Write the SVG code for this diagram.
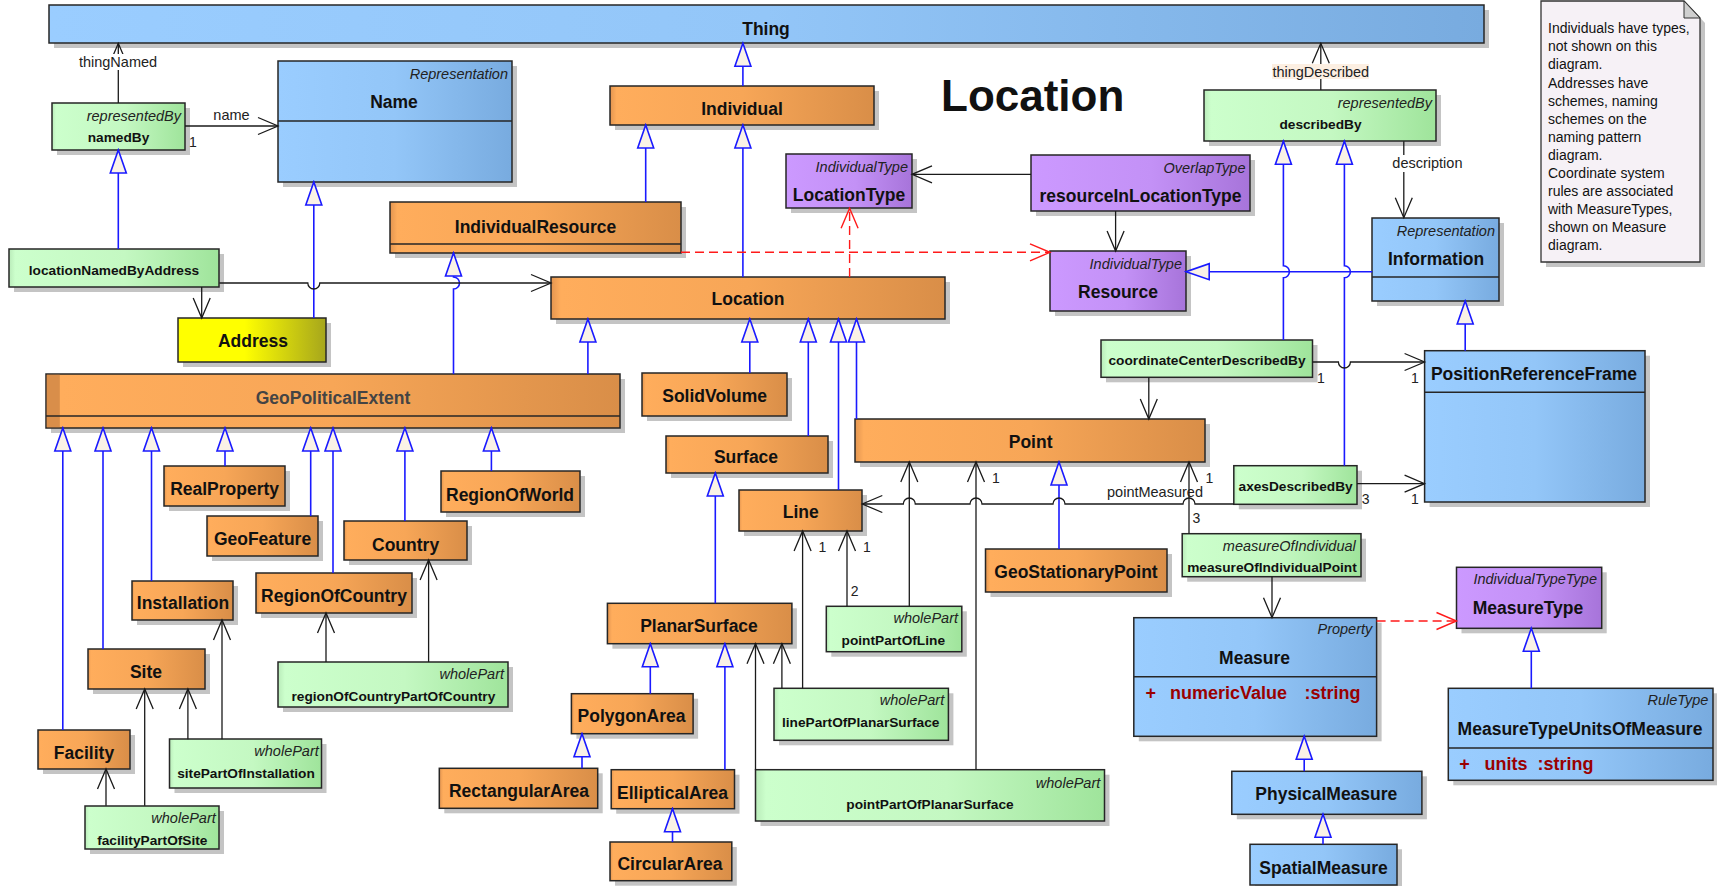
<svg xmlns="http://www.w3.org/2000/svg" width="1717" height="886" viewBox="0 0 1717 886">
<style>
text{font-family:"Liberation Sans",Arial,sans-serif;fill:#111}
.sh{fill:#c4c4c4}
.box{stroke:#262626;stroke-width:1.5}
.dv{stroke:#262626;stroke-width:1.5}
.bl{fill:url(#gB)}.or{fill:url(#gO)}.gr{fill:url(#gG)}.pu{fill:url(#gP)}.ye{fill:url(#gY)}
.cn{font-weight:bold;font-size:17.5px;text-anchor:middle;dominant-baseline:central}
.an{font-weight:bold;font-size:13.7px;text-anchor:middle;dominant-baseline:central}
.st{font-style:italic;font-size:14.5px;text-anchor:end;dominant-baseline:central;fill:#222}
.lb{font-size:14.5px;text-anchor:middle;dominant-baseline:central;fill:#222}
.mu{font-size:14px;text-anchor:middle;dominant-baseline:central;fill:#222}
.at{font-weight:bold;font-size:18px;fill:#9a0000;dominant-baseline:central}
.nt{font-size:14px;fill:#111;dominant-baseline:central}
.gen{stroke:#1a1aff;stroke-width:1.6;fill:none;marker-end:url(#tri)}
.as{stroke:#1a1a1a;stroke-width:1.3;fill:none;marker-end:url(#oa)}
.dep{stroke:#ff1a1a;stroke-width:1.4;fill:none;stroke-dasharray:9 5;marker-end:url(#ra)}
</style>
<defs>
<linearGradient id="gB" x1="0" y1="0" x2="1" y2="0"><stop offset="0" stop-color="#9acdff"/><stop offset="0.5" stop-color="#93c6f8"/><stop offset="1" stop-color="#78abdf"/></linearGradient>
<linearGradient id="gO" x1="0" y1="0" x2="1" y2="0"><stop offset="0" stop-color="#e39550"/><stop offset="0.025" stop-color="#ffad5c"/><stop offset="0.5" stop-color="#f7a657"/><stop offset="1" stop-color="#d98e48"/></linearGradient>
<linearGradient id="gG" x1="0" y1="0" x2="1" y2="0"><stop offset="0" stop-color="#b9ebb9"/><stop offset="0.03" stop-color="#ccffcc"/><stop offset="0.55" stop-color="#c4f8c2"/><stop offset="1" stop-color="#9fe49b"/></linearGradient>
<linearGradient id="gP" x1="0" y1="0" x2="1" y2="0"><stop offset="0" stop-color="#cc99ff"/><stop offset="0.55" stop-color="#c391f6"/><stop offset="1" stop-color="#a774da"/></linearGradient>
<linearGradient id="gY" x1="0" y1="0" x2="1" y2="0"><stop offset="0" stop-color="#ffff00"/><stop offset="0.45" stop-color="#ffff00"/><stop offset="1" stop-color="#a6a61c"/></linearGradient>
<marker id="tri" viewBox="-25 -10 27 20" refX="0" refY="0" markerWidth="27" markerHeight="20" markerUnits="userSpaceOnUse" orient="auto"><path d="M0,0 L-23,-8 L-23,8 Z" fill="#faf2e6" stroke="#1a1aff" stroke-width="1.6"/></marker>
<marker id="oa" viewBox="-22 -10 24 20" refX="0" refY="0" markerWidth="24" markerHeight="20" markerUnits="userSpaceOnUse" orient="auto"><path d="M-20,-8.5 L0,0 L-20,8.5" fill="none" stroke="#1a1a1a" stroke-width="1.3"/></marker>
<marker id="ra" viewBox="-22 -10 24 20" refX="0" refY="0" markerWidth="24" markerHeight="20" markerUnits="userSpaceOnUse" orient="auto"><path d="M-20,-8.5 L0,0 L-20,8.5" fill="none" stroke="#ff1a1a" stroke-width="1.4"/></marker>
</defs>
<rect x="0" y="0" width="1717" height="886" fill="#ffffff"/>

<g id="title"><text x="941" y="111" font-size="44" font-weight="bold">Location</text></g>

<g id="n-thing"><rect class="sh" x="54" y="10" width="1435" height="38"/><rect class="box bl" x="49" y="5" width="1435" height="38"/><text class="cn" x="766" y="29">Thing</text></g>
<g id="n-name"><rect class="sh" x="283" y="66" width="234" height="121"/><rect class="box bl" x="278" y="61" width="234" height="121"/><line class="dv" x1="278" y1="121" x2="512" y2="121"/><text class="st" x="508" y="73.5">Representation</text><text class="cn" x="394" y="102">Name</text></g>
<g id="n-namedBy"><rect class="sh" x="57" y="108" width="133" height="47"/><rect class="box gr" x="52" y="103" width="133" height="47"/><text class="st" x="181" y="116">representedBy</text><text class="an" x="118.5" y="137.5">namedBy</text></g>
<g id="n-locationNamedByAddress"><rect class="sh" x="14" y="254" width="210" height="38"/><rect class="box gr" x="9" y="249" width="210" height="38"/><text class="an" x="114" y="270">locationNamedByAddress</text></g>
<g id="n-address"><rect class="sh" x="183" y="323" width="148" height="44"/><rect class="box ye" x="178" y="318" width="148" height="44"/><text class="cn" x="253" y="341">Address</text></g>
<g id="n-individual"><rect class="sh" x="615" y="91" width="264" height="39"/><rect class="box or" x="610" y="86" width="264" height="39"/><text class="cn" x="742" y="109">Individual</text></g>
<g id="n-individualResource"><rect class="sh" x="395" y="207" width="291" height="51"/><rect class="box or" x="390" y="202" width="291" height="51"/><line class="dv" x1="390" y1="244" x2="681" y2="244"/><text class="cn" x="535.5" y="226.5">IndividualResource</text></g>
<g id="n-location"><rect class="sh" x="556" y="282" width="394" height="42"/><rect class="box or" x="551" y="277" width="394" height="42"/><text class="cn" x="748" y="299">Location</text></g>
<g id="n-locationType"><rect class="sh" x="791" y="159" width="126" height="54"/><rect class="box pu" x="786" y="154" width="126" height="54"/><text class="st" x="908" y="166.5">IndividualType</text><text class="cn" x="849" y="195">LocationType</text></g>
<g id="n-resourceInLocationType"><rect class="sh" x="1036" y="160" width="219" height="56"/><rect class="box pu" x="1031" y="155" width="219" height="56"/><text class="st" x="1245.5" y="167.5">OverlapType</text><text class="cn" x="1140.5" y="196">resourceInLocationType</text></g>
<g id="n-resource"><rect class="sh" x="1055" y="256" width="136" height="60"/><rect class="box pu" x="1050" y="251" width="136" height="60"/><text class="st" x="1182" y="263.5">IndividualType</text><text class="cn" x="1118" y="292">Resource</text></g>
<g id="n-describedBy"><rect class="sh" x="1209" y="95" width="232" height="51"/><rect class="box gr" x="1204" y="90" width="232" height="51"/><text class="st" x="1432" y="103">representedBy</text><text class="an" x="1320.5" y="124.5">describedBy</text></g>
<g id="n-information"><rect class="sh" x="1377" y="223" width="127" height="83"/><rect class="box bl" x="1372" y="218" width="127" height="83"/><line class="dv" x1="1372" y1="277" x2="1499" y2="277"/><text class="st" x="1495" y="230.5">Representation</text><text class="cn" x="1436" y="259">Information</text></g>
<g id="n-note"><path d="M1546,6 H1689 L1705,23 V267 H1546 Z" fill="#c4c4c4"/><path d="M1541,1 H1684 L1700,18 V262 H1541 Z" fill="#f6f1f6" stroke="#333" stroke-width="1.3"/><path d="M1684,1 L1700,18 H1684 Z" fill="#cfcfcf" stroke="#333" stroke-width="1"/>
<text class="nt" x="1548" y="28.3">Individuals have types,</text><text class="nt" x="1548" y="46.3">not shown on this</text><text class="nt" x="1548" y="64.3">diagram.</text><text class="nt" x="1548" y="82.5">Addresses have</text><text class="nt" x="1548" y="100.5">schemes, naming</text><text class="nt" x="1548" y="118.5">schemes on the</text><text class="nt" x="1548" y="136.8">naming pattern</text><text class="nt" x="1548" y="155">diagram.</text><text class="nt" x="1548" y="173">Coordinate system</text><text class="nt" x="1548" y="191.2">rules are associated</text><text class="nt" x="1548" y="209.3">with MeasureTypes,</text><text class="nt" x="1548" y="227.3">shown on Measure</text><text class="nt" x="1548" y="245.3">diagram.</text></g>
<g id="n-geoPoliticalExtent"><rect class="sh" x="51" y="379" width="574" height="54"/><rect class="box or" x="46" y="374" width="574" height="54"/><rect x="46.8" y="374.8" width="13" height="52.4" fill="#d98e4a"/><line class="dv" x1="46" y1="416" x2="620" y2="416"/><text class="cn" x="333" y="398" style="fill:#444">GeoPoliticalExtent</text></g>
<g id="n-realProperty"><rect class="sh" x="169" y="471" width="121" height="40"/><rect class="box or" x="164" y="466" width="121" height="40"/><text class="cn" x="224.6" y="489">RealProperty</text></g>
<g id="n-geoFeature"><rect class="sh" x="212" y="521" width="111" height="40"/><rect class="box or" x="207" y="516" width="111" height="40"/><text class="cn" x="262.5" y="538.7">GeoFeature</text></g>
<g id="n-country"><rect class="sh" x="349" y="526" width="123" height="39"/><rect class="box or" x="344" y="521" width="123" height="39"/><text class="cn" x="405.6" y="545">Country</text></g>
<g id="n-regionOfWorld"><rect class="sh" x="446" y="476" width="139" height="41"/><rect class="box or" x="441" y="471" width="139" height="41"/><text class="cn" x="510" y="495">RegionOfWorld</text></g>
<g id="n-regionOfCountry"><rect class="sh" x="261" y="578" width="156" height="40"/><rect class="box or" x="256" y="573" width="156" height="40"/><text class="cn" x="334" y="596">RegionOfCountry</text></g>
<g id="n-installation"><rect class="sh" x="137" y="586" width="101" height="39"/><rect class="box or" x="132" y="581" width="101" height="39"/><text class="cn" x="183" y="603.3">Installation</text></g>
<g id="n-site"><rect class="sh" x="93" y="654" width="117" height="40"/><rect class="box or" x="88" y="649" width="117" height="40"/><text class="cn" x="146" y="671.7">Site</text></g>
<g id="n-facility"><rect class="sh" x="43" y="735" width="92" height="39"/><rect class="box or" x="38" y="730" width="92" height="39"/><text class="cn" x="84" y="752.7">Facility</text></g>
<g id="n-sitePartOfInstallation"><rect class="sh" x="174.5" y="744" width="152" height="49"/><rect class="box gr" x="169.5" y="739" width="152" height="49"/><text class="st" x="318.8" y="751.3">wholePart</text><text class="an" x="246" y="773.3">sitePartOfInstallation</text></g>
<g id="n-facilityPartOfSite"><rect class="sh" x="90" y="811" width="134" height="43"/><rect class="box gr" x="85" y="806" width="134" height="43"/><text class="st" x="215.8" y="818.3">wholePart</text><text class="an" x="152.3" y="840.3">facilityPartOfSite</text></g>
<g id="n-regionOfCountryPartOfCountry"><rect class="sh" x="283" y="667" width="230" height="45"/><rect class="box gr" x="278" y="662" width="230" height="45"/><text class="st" x="504" y="674.3">wholePart</text><text class="an" x="393.4" y="696.3">regionOfCountryPartOfCountry</text></g>
<g id="n-solidVolume"><rect class="sh" x="647" y="378" width="145" height="43"/><rect class="box or" x="642" y="373" width="145" height="43"/><text class="cn" x="714.6" y="395.7">SolidVolume</text></g>
<g id="n-surface"><rect class="sh" x="671" y="441" width="162" height="37"/><rect class="box or" x="666" y="436" width="162" height="37"/><text class="cn" x="746" y="457.3">Surface</text></g>
<g id="n-line"><rect class="sh" x="744" y="495" width="123" height="41"/><rect class="box or" x="739" y="490" width="123" height="41"/><text class="cn" x="800.7" y="512.3">Line</text></g>
<g id="n-point"><rect class="sh" x="860" y="424" width="350" height="43"/><rect class="box or" x="855" y="419" width="350" height="43"/><text class="cn" x="1030.6" y="441.7">Point</text></g>
<g id="n-geoStationaryPoint"><rect class="sh" x="990.5" y="554" width="181.5" height="43"/><rect class="box or" x="985.5" y="549" width="181.5" height="43"/><text class="cn" x="1076" y="572.3">GeoStationaryPoint</text></g>
<g id="n-planarSurface"><rect class="sh" x="612.4" y="608.3" width="184.5" height="40.4"/><rect class="box or" x="607.4" y="603.3" width="184.5" height="40.4"/><text class="cn" x="699" y="626">PlanarSurface</text></g>
<g id="n-polygonArea"><rect class="sh" x="576.4" y="698.7" width="121.7" height="40"/><rect class="box or" x="571.4" y="693.7" width="121.7" height="40"/><text class="cn" x="631.5" y="716">PolygonArea</text></g>
<g id="n-rectangularArea"><rect class="sh" x="444.3" y="773.3" width="158.4" height="40"/><rect class="box or" x="439.3" y="768.3" width="158.4" height="40"/><text class="cn" x="519" y="791">RectangularArea</text></g>
<g id="n-ellipticalArea"><rect class="sh" x="616.2" y="774.7" width="123.3" height="39"/><rect class="box or" x="611.2" y="769.7" width="123.3" height="39"/><text class="cn" x="672.5" y="792.7">EllipticalArea</text></g>
<g id="n-circularArea"><rect class="sh" x="615" y="847" width="121.8" height="38.7"/><rect class="box or" x="610" y="842" width="121.8" height="38.7"/><text class="cn" x="670" y="864.3">CircularArea</text></g>
<g id="n-linePartOfPlanarSurface"><rect class="sh" x="779" y="693.3" width="174.4" height="52"/><rect class="box gr" x="774" y="688.3" width="174.4" height="52"/><text class="st" x="944.2" y="700.3">wholePart</text><text class="an" x="860.7" y="722">linePartOfPlanarSurface</text></g>
<g id="n-pointPartOfLine"><rect class="sh" x="831.3" y="611.3" width="135.5" height="45.4"/><rect class="box gr" x="826.3" y="606.3" width="135.5" height="45.4"/><text class="st" x="958" y="618.3">wholePart</text><text class="an" x="893.3" y="640">pointPartOfLine</text></g>
<g id="n-pointPartOfPlanarSurface"><rect class="sh" x="760.5" y="774.7" width="349" height="51.3"/><rect class="box gr" x="755.5" y="769.7" width="349" height="51.3"/><text class="st" x="1100.3" y="782.7">wholePart</text><text class="an" x="930" y="804.3">pointPartOfPlanarSurface</text></g>
<g id="n-coordinateCenterDescribedBy"><rect class="sh" x="1106" y="345" width="211.5" height="37.3"/><rect class="box gr" x="1101" y="340" width="211.5" height="37.3"/><text class="an" x="1207" y="360.3">coordinateCenterDescribedBy</text></g>
<g id="n-positionReferenceFrame"><rect class="sh" x="1429.6" y="355.7" width="220.4" height="151.3"/><rect class="box bl" x="1424.6" y="350.7" width="220.4" height="151.3"/><line class="dv" x1="1424.6" y1="392.3" x2="1645" y2="392.3"/><text class="cn" x="1534" y="373.7">PositionReferenceFrame</text></g>
<g id="n-axesDescribedBy"><rect class="sh" x="1238.8" y="470.7" width="123.2" height="38.6"/><rect class="box gr" x="1233.8" y="465.7" width="123.2" height="38.6"/><text class="an" x="1295.6" y="486.3">axesDescribedBy</text></g>
<g id="n-measureOfIndividualPoint"><rect class="sh" x="1187.2" y="538.7" width="178.8" height="43"/><rect class="box gr" x="1182.2" y="533.7" width="178.8" height="43"/><text class="st" x="1355.8" y="546.3">measureOfIndividual</text><text class="an" x="1272" y="567.7">measureOfIndividualPoint</text></g>
<g id="n-measure"><rect class="sh" x="1138.8" y="622.7" width="242.8" height="118.6"/><rect class="box bl" x="1133.8" y="617.7" width="242.8" height="118.6"/><line class="dv" x1="1133.8" y1="676.7" x2="1376.6" y2="676.7"/><text class="st" x="1372.3" y="629.3">Property</text><text class="cn" x="1254.6" y="657.7">Measure</text><text class="at" x="1145.6" y="693.3">+</text><text class="at" x="1170" y="693.3">numericValue</text><text class="at" x="1304.6" y="693.3">:string</text></g>
<g id="n-measureType"><rect class="sh" x="1461.5" y="572.3" width="145.2" height="61"/><rect class="box pu" x="1456.5" y="567.3" width="145.2" height="61"/><text class="st" x="1597" y="579.3">IndividualTypeType</text><text class="cn" x="1528" y="608">MeasureType</text></g>
<g id="n-measureTypeUnitsOfMeasure"><rect class="sh" x="1453.3" y="693.3" width="264.7" height="92"/><rect class="box bl" x="1448.3" y="688.3" width="264.7" height="92"/><line class="dv" x1="1448.3" y1="748" x2="1713" y2="748"/><text class="st" x="1708.4" y="700.3">RuleType</text><text class="cn" x="1580" y="729">MeasureTypeUnitsOfMeasure</text><text class="at" x="1459.3" y="764.3">+</text><text class="at" x="1484.5" y="764.3">units</text><text class="at" x="1537.6" y="764.3">:string</text></g>
<g id="n-physicalMeasure"><rect class="sh" x="1236.8" y="776.3" width="190.1" height="43"/><rect class="box bl" x="1231.8" y="771.3" width="190.1" height="43"/><text class="cn" x="1326.3" y="794">PhysicalMeasure</text></g>
<g id="n-spatialMeasure"><rect class="sh" x="1255" y="849.3" width="147" height="40.7"/><rect class="box bl" x="1250" y="844.3" width="147" height="40.7"/><text class="cn" x="1323.5" y="867.7">SpatialMeasure</text></g>

<g id="connectors">
<path class="gen" d="M118.3,249 V150"/>
<path class="gen" d="M313.8,318 V182"/>
<path class="gen" d="M742.9,86 V43.3"/>
<path class="gen" d="M645.7,202 V125"/>
<path class="gen" d="M742.9,277 V125"/>
<path class="gen" d="M453.5,374 V289 a6,6 0 0 0 0,-12 V253"/>
<path class="gen" d="M587.9,374 V319"/>
<path class="gen" d="M749.8,373 V319"/>
<path class="gen" d="M808.3,436 V319"/>
<path class="gen" d="M838.5,490 V319"/>
<path class="gen" d="M856.5,419 V319"/>
<path class="gen" d="M62.8,730 V428"/>
<path class="gen" d="M103,649 V428"/>
<path class="gen" d="M151.5,581 V428"/>
<path class="gen" d="M225,466 V428"/>
<path class="gen" d="M310.7,516 V428"/>
<path class="gen" d="M333,573 V428"/>
<path class="gen" d="M404.9,521 V428"/>
<path class="gen" d="M491.4,471 V428"/>
<path class="gen" d="M715.3,603.3 V473"/>
<path class="gen" d="M650.3,693.7 V643.7"/>
<path class="gen" d="M724.9,769.7 V643.7"/>
<path class="gen" d="M582,768.3 V733.7"/>
<path class="gen" d="M672.5,842 V808.7"/>
<path class="gen" d="M1059,549 V462"/>
<path class="gen" d="M1283.4,340 V277.7 a6,6 0 0 0 0,-12 V141.3"/>
<path class="gen" d="M1344.4,465.7 V277.7 a6,6 0 0 0 0,-12 V141.3"/>
<path class="gen" d="M1372.3,271.7 H1186.2"/>
<path class="gen" d="M1465.2,350.7 V301"/>
<path class="gen" d="M1304.2,771.3 V736.3"/>
<path class="gen" d="M1323,844.3 V814.3"/>
<path class="gen" d="M1531.3,688.3 V628.3"/>

<path class="as" d="M118.3,103 V43.3"/>
<path class="as" d="M185,126 H278"/>
<path class="as" d="M219.3,283 H307.8 a6,6 0 0 0 12,0 H551"/>
<path class="as" d="M201.7,287 V318"/>
<path class="as" d="M1031,174.3 H912"/>
<path class="as" d="M1115.6,211 V251"/>
<path class="as" d="M1320.8,90 V43.3"/>
<path class="as" d="M1403.8,141.3 V217.7"/>
<path class="as" d="M1148.8,377.3 V419"/>
<path class="as" d="M1312.5,362 H1338.4 a6,6 0 0 0 12,0 H1424.6"/>
<path class="as" d="M1357,483.7 H1424.6"/>
<path class="as" d="M1233.8,504 H1195 a6,6 0 0 0 -12,0 H1065 a6,6 0 0 0 -12,0 H982 a6,6 0 0 0 -12,0 H915.3 a6,6 0 0 0 -12,0 H862.3"/>
<path class="as" d="M1189,533.7 V462"/>
<path class="as" d="M1272,576.7 V617.7"/>
<path class="as" d="M847,606.3 V531"/>
<path class="as" d="M909.3,606.3 V462"/>
<path class="as" d="M802.6,688.3 V531"/>
<path class="as" d="M781.9,688.3 V643.7"/>
<path class="as" d="M755.5,769.7 V643.7"/>
<path class="as" d="M976,769.7 V462"/>
<path class="as" d="M326,662 V613"/>
<path class="as" d="M428.6,662 V560"/>
<path class="as" d="M222,739.3 V620"/>
<path class="as" d="M187.9,739.3 V689"/>
<path class="as" d="M144.7,805.7 V689"/>
<path class="as" d="M106,805.7 V769"/>

<path class="dep" d="M681,252.3 H1050"/>
<path class="dep" d="M849.6,277 V208.3"/>
<path class="dep" d="M1376.6,621 H1456.5"/>

<rect x="78" y="54" width="80" height="16" fill="#ffffff"/>
<text class="lb" x="118" y="62">thingNamed</text>
<text class="lb" x="231.5" y="114.7">name</text>
<text class="mu" x="193" y="141.7">1</text>
<rect x="1272" y="64" width="97" height="15" fill="#fcefe2"/>
<text class="lb" x="1320.8" y="71.5">thingDescribed</text>
<rect x="1390" y="155" width="76" height="17" fill="#ffffff"/>
<text class="lb" x="1427.4" y="163.3">description</text>
<text class="mu" x="1321" y="378.3">1</text>
<text class="mu" x="1414.8" y="378.3">1</text>
<text class="mu" x="1365.6" y="499.3">3</text>
<text class="mu" x="1414.8" y="499.3">1</text>
<text class="lb" x="1155" y="491.7">pointMeasured</text>
<text class="mu" x="1196.4" y="518.3">3</text>
<text class="mu" x="1209.4" y="478.3">1</text>
<text class="mu" x="866.9" y="547.3">1</text>
<text class="mu" x="854.6" y="590.7">2</text>
<text class="mu" x="822.5" y="547.3">1</text>
<text class="mu" x="995.8" y="478.3">1</text>
</g>
</svg>
